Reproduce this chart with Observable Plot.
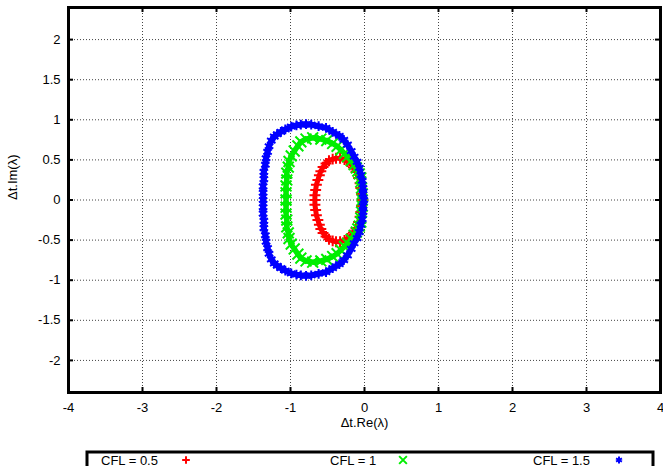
<!DOCTYPE html>
<html>
<head>
<meta charset="utf-8">
<script src="https://cdn.jsdelivr.net/npm/d3@7"></script>
<script src="https://cdn.jsdelivr.net/npm/@observablehq/plot@0.6"></script>
<style>
  body { margin: 0; background: #fff; }
  #chart svg { display: block; }
</style>
</head>
<body>
<div id="chart"></div>
<script>
// Axis ticks and titles
const xTicks = [-4, -3, -2, -1, 0, 1, 2, 3, 4];
const yTicks = [-2, -1.5, -1, -0.5, 0, 0.5, 1, 1.5, 2];
const xTitle = "Δt.Re(λ)";
const yTitle = "Δt.Im(λ)";
const seriesLabels = ["CFL = 0.5", "CFL = 1", "CFL = 1.5"];

// Eigenvalues Δt·λ for CFL = 0.5 (loop: upper branch, then lower branch)
const cfl05Re = [-0.03, -0.04, -0.05, -0.06, -0.08, -0.115, -0.15, -0.18, -0.23, -0.27, -0.33, -0.385, -0.43, -0.48, -0.52, -0.56, -0.59, -0.61, -0.63, -0.65, -0.66, -0.67, -0.67,
  -0.67, -0.66, -0.65, -0.63, -0.61, -0.59, -0.56, -0.52, -0.48, -0.43, -0.385, -0.33, -0.27, -0.23, -0.18, -0.15, -0.115, -0.08, -0.06, -0.05, -0.04];
const cfl05Im = [0, 0.075, 0.15, 0.21, 0.275, 0.355, 0.405, 0.445, 0.48, 0.505, 0.52, 0.52, 0.51, 0.49, 0.455, 0.41, 0.36, 0.31, 0.25, 0.19, 0.125, 0.06, 0,
  -0.06, -0.125, -0.19, -0.25, -0.31, -0.36, -0.41, -0.455, -0.49, -0.51, -0.52, -0.52, -0.505, -0.48, -0.445, -0.405, -0.355, -0.275, -0.21, -0.15, -0.075];

// Eigenvalues Δt·λ for CFL = 1
const cfl1Re = [-0.03, -0.03, -0.04, -0.05, -0.05, -0.07, -0.09, -0.11, -0.14, -0.18, -0.23, -0.27, -0.32, -0.37, -0.43, -0.51, -0.59, -0.70, -0.79, -0.86, -0.90, -0.95, -0.99, -1.02, -1.03, -1.05, -1.05, -1.06, -1.06, -1.06,
  -1.06, -1.06, -1.05, -1.05, -1.03, -1.02, -0.99, -0.95, -0.90, -0.86, -0.79, -0.70, -0.59, -0.51, -0.43, -0.37, -0.32, -0.27, -0.23, -0.18, -0.14, -0.11, -0.09, -0.07, -0.05, -0.05, -0.04, -0.03];
const cfl1Im = [0, 0.075, 0.15, 0.225, 0.275, 0.325, 0.36, 0.40, 0.44, 0.49, 0.54, 0.58, 0.625, 0.67, 0.705, 0.74, 0.76, 0.775, 0.76, 0.725, 0.675, 0.61, 0.55, 0.48, 0.41, 0.335, 0.25, 0.175, 0.09, 0,
  -0.09, -0.175, -0.25, -0.335, -0.41, -0.48, -0.55, -0.61, -0.675, -0.725, -0.76, -0.775, -0.76, -0.74, -0.705, -0.67, -0.625, -0.58, -0.54, -0.49, -0.44, -0.40, -0.36, -0.325, -0.275, -0.225, -0.15, -0.075];

// Eigenvalues Δt·λ for CFL = 1.5
const cfl15Re = [-0.01, -0.02, -0.02, -0.03, -0.05, -0.07, -0.10, -0.14, -0.18, -0.23, -0.28, -0.34, -0.43, -0.52, -0.62, -0.72, -0.79, -0.86, -0.92, -0.99, -1.07, -1.13, -1.18, -1.22, -1.26, -1.29, -1.31, -1.33, -1.34, -1.36, -1.36, -1.37, -1.37, -1.37,
  -1.37, -1.37, -1.36, -1.36, -1.34, -1.33, -1.31, -1.29, -1.26, -1.22, -1.18, -1.13, -1.07, -0.99, -0.92, -0.86, -0.79, -0.72, -0.62, -0.52, -0.43, -0.34, -0.28, -0.23, -0.18, -0.14, -0.10, -0.07, -0.05, -0.03, -0.02, -0.02];
const cfl15Im = [0, 0.075, 0.15, 0.24, 0.31, 0.40, 0.475, 0.54, 0.61, 0.69, 0.75, 0.80, 0.85, 0.90, 0.92, 0.94, 0.945, 0.94, 0.93, 0.915, 0.88, 0.85, 0.82, 0.79, 0.74, 0.67, 0.60, 0.52, 0.44, 0.35, 0.26, 0.17, 0.09, 0,
  -0.09, -0.17, -0.26, -0.35, -0.44, -0.52, -0.60, -0.67, -0.74, -0.79, -0.82, -0.85, -0.88, -0.915, -0.93, -0.94, -0.945, -0.94, -0.92, -0.90, -0.85, -0.80, -0.75, -0.69, -0.61, -0.54, -0.475, -0.40, -0.31, -0.24, -0.15, -0.075];

const toRows = (re, im) => re.map((r, i) => ({re: r, im: im[i]}));

const series = [
  {label: seriesLabels[0], rows: toRows(cfl05Re, cfl05Im), symbol: "plus",     color: "#ff0000", r: 3.6, band: 5,   lr: 2.6},
  {label: seriesLabels[1], rows: toRows(cfl1Re, cfl1Im),   symbol: "times",    color: "#00ee00", r: 5.0, band: 5.5, lr: 3.6},
  {label: seriesLabels[2], rows: toRows(cfl15Re, cfl15Im), symbol: "asterisk", color: "#0000ff", r: 4.6, band: 6,   lr: 3.2}
];

const W = 663, H = 440;
const mL = 68, mR = 3, mT = 7, mB = 48;
const innerW = W - mL - mR, innerH = H - mT - mB;
const tick = 5;
const font = "'Liberation Sans', Arial, Helvetica, sans-serif";
const fmt = d => String(d);

const chart = Plot.plot({
  width: W,
  height: H,
  marginLeft: mL,
  marginRight: mR,
  marginTop: mT,
  marginBottom: mB,
  style: {fontFamily: font, fontSize: "13px", color: "black", background: "white"},
  x: {domain: [-4, 4], ticks: xTicks, tickSize: 0, tickPadding: 10, tickFormat: fmt, label: null},
  y: {domain: [-2.4, 2.4], ticks: yTicks, tickSize: 0, tickPadding: 8, tickFormat: fmt, label: null},
  marks: [
    // dotted grid
    Plot.ruleX(xTicks, {x: d => d, stroke: "#444", strokeDasharray: "1,2"}),
    Plot.ruleY(yTicks, {y: d => d, stroke: "#444", strokeDasharray: "1,2"}),
    // eigenvalue loops: a dense band of markers per series, drawn in series order
    ...series.flatMap(s => [
      Plot.line(s.rows, {
        x: "re", y: "im", curve: "linear-closed",
        stroke: s.color, strokeWidth: s.band, strokeLinejoin: "round"
      }),
      Plot.dot(s.rows, {
        x: "re", y: "im", symbol: s.symbol, r: s.r,
        stroke: s.color, strokeWidth: 2, fill: "none"
      })
    ]),
    // inward tick marks on all four sides
    Plot.ruleX(xTicks, {x: d => d, insetTop: innerH - tick, stroke: "black", strokeWidth: 2}),
    Plot.ruleX(xTicks, {x: d => d, insetBottom: innerH - tick, stroke: "black", strokeWidth: 2}),
    Plot.ruleY(yTicks, {y: d => d, insetRight: innerW - tick, stroke: "black", strokeWidth: 2}),
    Plot.ruleY(yTicks, {y: d => d, insetLeft: innerW - tick, stroke: "black", strokeWidth: 2}),
    Plot.frame({stroke: "black", strokeWidth: 3}),
    // axis titles
    Plot.text([xTitle], {text: d => d, frameAnchor: "bottom", dy: 34, fill: "black"}),
    Plot.text([yTitle], {text: d => d, frameAnchor: "left", dx: -56, rotate: -90, fill: "black"})
  ]
});
document.getElementById("chart").append(chart);

// Legend strip below the plot
const legendX = [101, 330, 533];
const legendSym = [186, 403, 619];
const symbolTypes = {plus: d3.symbolPlus, times: d3.symbolTimes, asterisk: d3.symbolAsterisk};
const legend = d3.create("svg")
  .attr("width", W)
  .attr("height", 26)
  .style("display", "block")
  .style("font-family", font)
  .style("font-size", "13px");
legend.append("rect")
  .attr("x", 87).attr("y", 12)
  .attr("width", 566).attr("height", 40)
  .attr("fill", "none").attr("stroke", "black").attr("stroke-width", 3);
series.forEach((s, i) => {
  legend.append("text")
    .attr("x", legendX[i]).attr("y", 24.5)
    .attr("fill", "black")
    .text(s.label);
  legend.append("path")
    .attr("transform", `translate(${legendSym[i]},20)`)
    .attr("d", d3.symbol(symbolTypes[s.symbol], Math.PI * s.lr * s.lr)())
    .attr("fill", "none").attr("stroke", s.color).attr("stroke-width", 2);
});
document.getElementById("chart").append(legend.node());
</script>
</body>
</html>
